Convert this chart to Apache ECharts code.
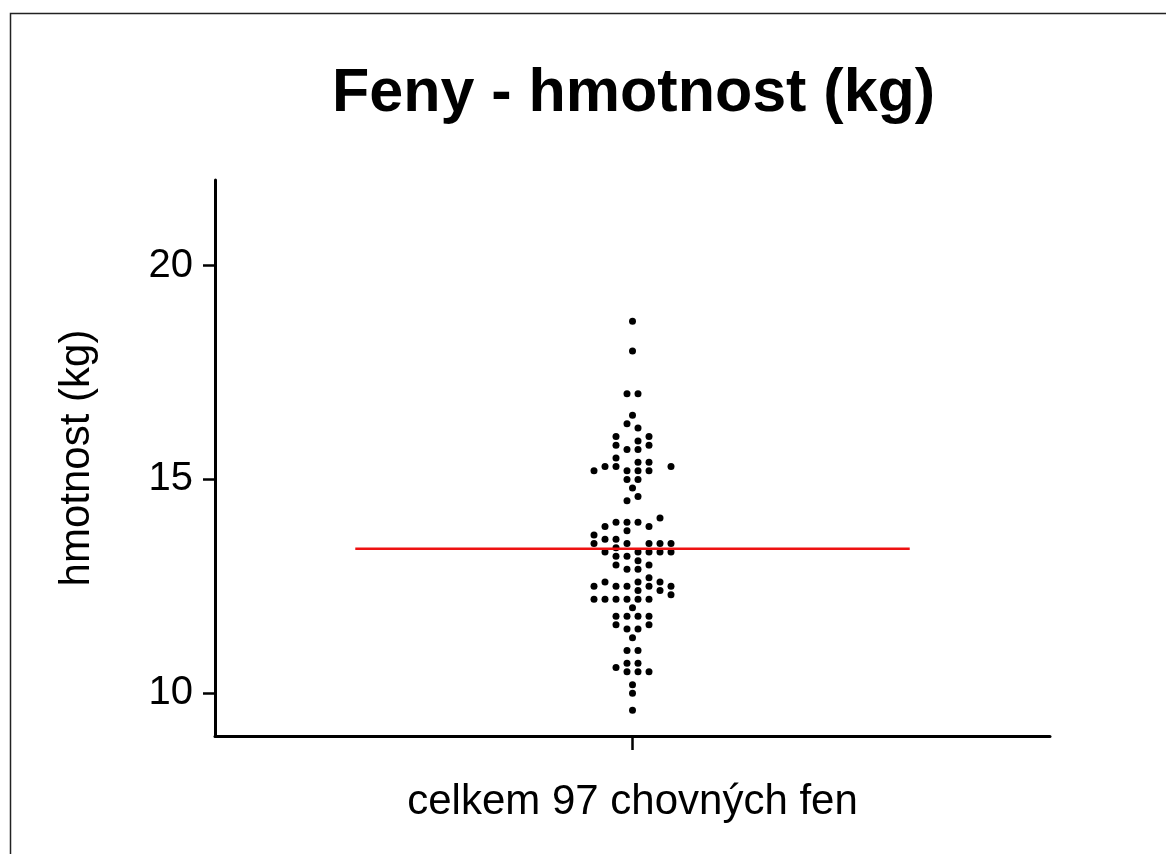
<!DOCTYPE html>
<html>
<head>
<meta charset="utf-8">
<script src="https://cdn.jsdelivr.net/npm/echarts@6/dist/echarts.min.js"></script>
<style>
  html, body { margin: 0; padding: 0; background: #ffffff; }
  #chart { width: 1166px; height: 854px; }
</style>
</head>
<body>
<div id="chart"></div>
<script>
// ---- data ----
const categories = ['celkem 97 chovných fen'];
const yTicks = [10, 15, 20];
// weight of each dog (kg)
const weights = [
  18.7, 18.0, 17.0, 17.0, 16.5, 16.3, 16.2, 16.0, 15.9, 16.0,
  15.8, 15.7, 15.7, 15.8, 15.5, 15.4, 15.4, 15.2, 15.3, 15.3,
  15.2, 15.2, 15.2, 15.3, 15.0, 15.0, 14.8, 14.5, 14.6, 14.1,
  13.9, 14.0, 14.0, 14.0, 13.9, 13.8, 13.7, 13.6, 13.6, 13.5,
  13.4, 13.5, 13.5, 13.5, 13.5, 13.3, 13.2, 13.2, 13.3, 13.3,
  13.3, 13.3, 13.0, 12.9, 13.1, 12.9, 13.0, 12.7, 12.5, 12.6,
  12.5, 12.5, 12.6, 12.5, 12.6, 12.5, 12.4, 12.4, 12.3, 12.2,
  12.2, 12.2, 12.2, 12.2, 12.2, 12.0, 11.8, 11.8, 11.8, 11.8,
  11.6, 11.5, 11.5, 11.6, 11.3, 11.0, 11.0, 10.7, 10.7, 10.6,
  10.5, 10.5, 10.5, 10.2, 10.0, 9.6
];
// beeswarm slot of each dog (in half dot-spacings from the centre)
const swarmSlots = [
   0,  0, -1,  1,  0, -1,  1, -3,  1,  3,
  -3, -1,  1,  3, -3,  1,  3, -7, -5, -3,
  -1,  1,  3,  7, -1,  1,  0, -1,  1,  5,
  -5, -3, -1,  1,  3, -1, -7, -5, -3, -7,
  -3, -1,  3,  5,  7, -5, -3, -1,  1,  3,
   5,  7, -3, -1,  1,  1,  3,  3, -7, -5,
  -3, -1,  1,  3,  5,  7,  1,  5,  7, -7,
  -5, -3, -1,  1,  3,  0, -3, -1,  1,  3,
  -3, -1,  1,  3,  0, -1,  1, -1,  1, -3,
  -1,  1,  3,  0,  0,  0
];
const meanValue = [13.38];

// ---- layout / style constants ----
const SLOT_UNIT = 5.5 / 835;      // half dot spacing as a fraction of the category band
const MEAN_HALF = 0.332;          // half-length of the mean line (fraction of band)
const FONT = '"Liberation Sans", Arial, Helvetica, sans-serif';

const scatterData = weights.map((w, i) => [swarmSlots[i] * SLOT_UNIT, w]);
const meanData = [[-MEAN_HALF, meanValue[0]], [MEAN_HALF, meanValue[0]]];

const chart = echarts.init(document.getElementById('chart'), null, { renderer: 'canvas' });
chart.setOption({
  backgroundColor: '#ffffff',
  animation: false,
  title: {
    text: 'Feny - hmotnost (kg)',
    left: 332,
    top: 64,
    padding: 0,
    textStyle: { fontFamily: FONT, fontSize: 61, fontWeight: 'bold', color: '#000' }
  },
  graphic: [{
    type: 'rect',
    shape: { x: 10.5, y: 13.5, width: 1300, height: 1000 },
    style: { fill: 'none', stroke: '#222', lineWidth: 1.5 },
    silent: true, z: -10
  }],
  grid: { left: 215, right: 116, top: 180, bottom: 118, containLabel: false, outerBoundsMode: 'none' },
  xAxis: [{
    type: 'category',
    data: categories,
    boundaryGap: true,
    axisLine: { show: true, onZero: false, lineStyle: { color: '#000', width: 3 } },
    axisTick: { show: true, alignWithLabel: true, length: 14, lineStyle: { color: '#000', width: 2.5 } },
    axisLabel: { fontFamily: FONT, fontSize: 42, color: '#000', margin: 45 },
    splitLine: { show: false }
  }, {
    type: 'value',
    min: -0.5, max: 0.5,
    show: false,
    splitLine: { show: false }
  }],
  yAxis: {
    type: 'value',
    min: 9, max: 22,
    position: 'left',
    name: 'hmotnost (kg)',
    nameLocation: 'middle',
    nameRotate: 90,
    nameGap: 117,
    nameTextStyle: { fontFamily: FONT, fontSize: 42, color: '#000' },
    axisLine: { show: true, onZero: false, lineStyle: { color: '#000', width: 3 } },
    axisTick: { show: true, length: 12, customValues: yTicks, lineStyle: { color: '#000', width: 2.5 } },
    axisLabel: { fontFamily: FONT, fontSize: 40, color: '#000', margin: 22, customValues: yTicks },
    splitLine: { show: false }
  },
  series: [{
    type: 'scatter',
    xAxisIndex: 1,
    data: scatterData,
    symbol: 'circle',
    symbolSize: 7,
    itemStyle: { color: '#000', opacity: 1 },
    z: 2
  }, {
    type: 'line',
    xAxisIndex: 1,
    data: meanData,
    symbol: 'none',
    lineStyle: { color: '#ee1111', width: 2.5 },
    z: 3
  }]
});
</script>
</body>
</html>
